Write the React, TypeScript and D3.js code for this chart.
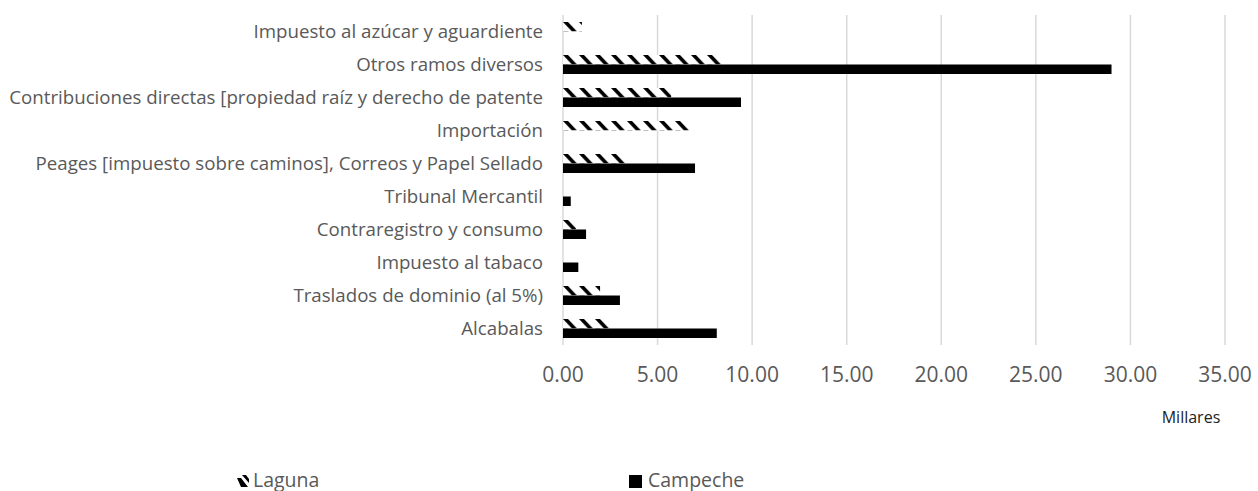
import React from "react";
import * as d3 from "d3";

const categories = [
  "Impuesto al azúcar y aguardiente",
  "Otros ramos diversos",
  "Contribuciones directas [propiedad raíz y derecho de patente",
  "Importación ",
  "Peages [impuesto sobre caminos], Correos y Papel Sellado",
  "Tribunal Mercantil",
  "Contraregistro y consumo",
  "Impuesto al tabaco",
  "Traslados de dominio (al 5%)",
  "Alcabalas",
];

// Values in thousands (millares)
const lagunaValues = [1.0, 8.46, 5.72, 6.72, 3.28, 0, 0.69, 0, 1.96, 2.49];
const campecheValues = [0, 29.0, 9.41, 0, 6.98, 0.41, 1.22, 0.81, 3.01, 8.13];

const xTicks = [0, 5, 10, 15, 20, 25, 30, 35];
const seriesNames = ["Laguna", "Campeche"];

const W = 1258;
const H = 491;
const FONT = "'Open Sans', Lato, sans-serif";
const TEXT = "#595959";

export default function App() {
  const x = d3.scaleLinear().domain([0, 35]).range([563, 1225]);
  const y = d3.scaleBand<string>().domain(categories).range([15, 345]).paddingInner(0);
  const barH = 9.5;
  const fmt = d3.format(".2f");

  const stripe = (px: number, py: number, h: number) =>
    `M${px},${py} L${px + 5},${py} L${px + 14},${py + h} L${px + 9},${py + h} Z`;

  return (
    <svg
      width={W}
      height={H}
      style={{ position: "absolute", left: 0, top: 0, background: "#fff" }}
      fontFamily={FONT}
    >
      <defs>
        {categories.map((c, i) => {
          const cy = (y(c) as number) + y.bandwidth() / 2;
          return (
            <pattern
              key={c}
              id={`laguna-${i}`}
              patternUnits="userSpaceOnUse"
              x={x(0)}
              y={cy - barH}
              width={16}
              height={barH}
            >
              <rect width={16} height={barH} fill="#fff" />
              <path d={stripe(0, 0, barH)} fill="#000" />
            </pattern>
          );
        })}
        <pattern id="laguna-legend" patternUnits="userSpaceOnUse" x={237} y={475} width={12} height={12}>
          <rect width={12} height={12} fill="#fff" />
          <path d="M0,3 L4,3 L11,12 L4,12 Z M5,0 L9,0 L12,4 L12,8 Z" fill="#000" />
        </pattern>
      </defs>

      {/* vertical gridlines */}
      {xTicks.map((t) => (
        <line key={t} x1={x(t)} x2={x(t)} y1={15} y2={345} stroke="#d9d9d9" strokeWidth={1.5} />
      ))}

      {/* bars */}
      {categories.map((c, i) => {
        const cy = (y(c) as number) + y.bandwidth() / 2;
        return (
          <g key={c}>
            {lagunaValues[i] > 0 && (
              <rect
                x={x(0)}
                y={cy - barH}
                width={x(lagunaValues[i]) - x(0)}
                height={barH}
                fill={`url(#laguna-${i})`}
              />
            )}
            {campecheValues[i] > 0 && (
              <rect
                x={x(0)}
                y={cy}
                width={x(campecheValues[i]) - x(0)}
                height={barH}
                fill="#000"
              />
            )}
          </g>
        );
      })}

      {/* category labels */}
      {categories.map((c) => {
        const cy = (y(c) as number) + y.bandwidth() / 2;
        return (
          <text
            key={c}
            x={543}
            y={cy - 1.5}
            textAnchor="end"
            dominantBaseline="central"
            fontSize={18.7}
            fill={TEXT}
          >
            {c}
          </text>
        );
      })}

      {/* x tick labels */}
      {xTicks.map((t) => (
        <text key={t} x={x(t)} y={374} textAnchor="middle" dominantBaseline="central" fontSize={21} fill={TEXT}>
          {fmt(t)}
        </text>
      ))}

      <text x={1191} y={417} textAnchor="middle" dominantBaseline="central" fontSize={16} fill="#222">
        Millares
      </text>

      {/* legend */}
      <rect x={237} y={475} width={12} height={12} fill="url(#laguna-legend)" />
      <text x={253} y={479} dominantBaseline="central" fontSize={19.5} fill={TEXT}>
        {seriesNames[0]}
      </text>
      <rect x={629} y={475} width={13} height={13} fill="#000" />
      <text x={648} y={479} dominantBaseline="central" fontSize={19.5} fill={TEXT}>
        {seriesNames[1]}
      </text>
    </svg>
  );
}
